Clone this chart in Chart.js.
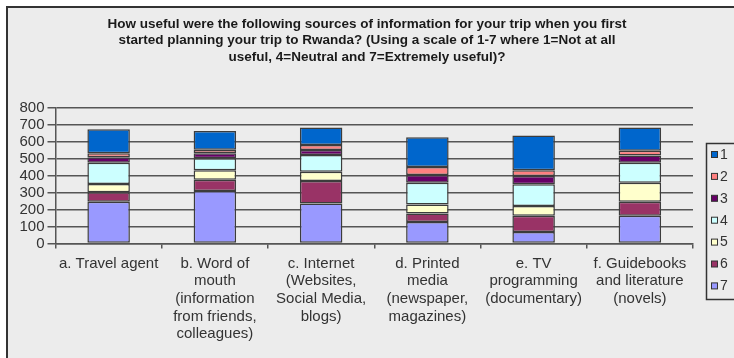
<!DOCTYPE html>
<html>
<head>
<meta charset="utf-8">
<script src="https://cdn.jsdelivr.net/npm/chart.js@4/dist/chart.umd.min.js"></script>
<style>
  html, body { margin: 0; padding: 0; background: #fff; }
  canvas { display: block; }
</style>
</head>
<body>
<canvas id="plot" width="734" height="358"></canvas>
<script>
// sources of information, one label line per array entry
const sources = [
  ["a. Travel agent"],
  ["b. Word of", "mouth", "(information", "from friends,", "colleagues)"],
  ["c. Internet", "(Websites,", "Social Media,", "blogs)"],
  ["d. Printed", "media", "(newspaper,", "magazines)"],
  ["e. TV", "programming", "(documentary)"],
  ["f. Guidebooks", "and literature", "(novels)"]
];

// number of answers per rating (1 = not at all useful ... 7 = extremely useful)
const rating1 = [141, 110, 102, 175, 204, 137];
const rating2 = [24, 21, 30, 47, 34, 28];
const rating3 = [32, 30, 29, 45, 49, 42];
const rating4 = [125, 70, 99, 128, 128, 117];
const rating5 = [49, 56, 54, 53, 57, 113];
const rating6 = [56, 66, 132, 50, 95, 82];
const rating7 = [245, 309, 236, 127, 68, 163];

const yTicks = [0, 100, 200, 300, 400, 500, 600, 700, 800];

const titleLines = [
  "How useful were the following sources of information for your trip when you first",
  "started planning your trip to Rwanda? (Using a scale of 1-7 where 1=Not at all",
  "useful, 4=Neutral and 7=Extremely useful)?"
];

// stacked bottom-up: 7 first, 1 on top
const series = [
  { label: "7", data: rating7, color: "#9999ff" },
  { label: "6", data: rating6, color: "#993366" },
  { label: "5", data: rating5, color: "#ffffcc" },
  { label: "4", data: rating4, color: "#ccffff" },
  { label: "3", data: rating3, color: "#660066" },
  { label: "2", data: rating2, color: "#ff8080" },
  { label: "1", data: rating1, color: "#0066cc" }
];

const FONT = "'Liberation Sans', Arial, sans-serif";
const GRID = "#555555";
const TEXT = "#333333";

// grey panel with a dark frame behind everything
const frame = {
  id: "frame",
  beforeDraw(chart) {
    const ctx = chart.ctx;
    ctx.save();
    ctx.fillStyle = "#ffffff";
    ctx.fillRect(0, 0, chart.width, chart.height);
    ctx.fillStyle = "#ececec";
    ctx.fillRect(7, 7, chart.width, chart.height);
    ctx.strokeStyle = "#333333";
    ctx.lineWidth = 2;
    ctx.strokeRect(7, 7, chart.width + 10, chart.height + 10);
    ctx.restore();
  }
};

// title centred on the whole panel, not only on the plot
const panelTitle = {
  id: "panelTitle",
  afterDraw(chart) {
    const ctx = chart.ctx;
    ctx.save();
    ctx.font = "bold 13.5px " + FONT;
    ctx.fillStyle = "#1a1a1a";
    ctx.textAlign = "center";
    ctx.textBaseline = "middle";
    titleLines.forEach((line, i) => ctx.fillText(line, 367, 24 + i * 16.5));
    ctx.restore();
  }
};

// boxed legend on the right, rating 1 on top
const boxLegend = {
  id: "boxLegend",
  afterDraw(chart) {
    const ctx = chart.ctx;
    const sets = chart.data.datasets.slice().reverse();
    ctx.save();
    ctx.strokeStyle = "#333333";
    ctx.lineWidth = 1.5;
    ctx.strokeRect(706.5, 143.5, 60, 156);
    ctx.font = "14px " + FONT;
    ctx.textBaseline = "middle";
    ctx.textAlign = "left";
    sets.forEach((ds, i) => {
      const y = 155 + i * 21.9;
      ctx.fillStyle = ds.backgroundColor;
      ctx.fillRect(711.5, y - 3.5, 6, 6);
      ctx.strokeStyle = "#333333";
      ctx.lineWidth = 1;
      ctx.strokeRect(711.5, y - 3.5, 6, 6);
      ctx.fillStyle = TEXT;
      ctx.fillText(ds.label, 720, y);
    });
    ctx.restore();
  }
};

const datasets = series.map(s => ({
  label: s.label,
  data: s.data,
  backgroundColor: s.color,
  borderColor: "#3c3c3c",
  borderWidth: 1.5,
  borderSkipped: false,
  categoryPercentage: 1.0,
  barPercentage: 0.4
}));

new Chart(document.getElementById("plot").getContext("2d"), {
  type: "bar",
  data: { labels: sources, datasets: datasets },
  options: {
    responsive: false,
    devicePixelRatio: 1,
    animation: false,
    layout: { padding: { left: 0, right: 41, top: 107.5, bottom: 0 } },
    plugins: {
      legend: { display: false },
      tooltip: { enabled: false },
      title: { display: false }
    },
    scales: {
      x: {
        stacked: true,
        afterFit(scale) { scale.height = 114.5; },
        border: { display: true, color: GRID, width: 1.5 },
        grid: {
          display: true,
          drawOnChartArea: false,
          drawTicks: true,
          tickLength: 5,
          color: GRID,
          lineWidth: 1.5,
          offset: true
        },
        ticks: {
          autoSkip: false,
          maxRotation: 0,
          minRotation: 0,
          color: TEXT,
          padding: 6,
          font: { family: FONT, size: 15, lineHeight: 1.183 }
        }
      },
      y: {
        stacked: true,
        min: 0,
        max: 800,
        afterFit(scale) { scale.width = 55.5; },
        afterBuildTicks(scale) { scale.ticks = yTicks.map(v => ({ value: v })); },
        border: { display: true, color: GRID, width: 1.5 },
        grid: {
          color: GRID,
          lineWidth: 1.5,
          drawTicks: true,
          tickLength: 8
        },
        ticks: {
          autoSkip: false,
          color: TEXT,
          padding: 3,
          font: { family: FONT, size: 15 }
        }
      }
    }
  },
  plugins: [frame, panelTitle, boxLegend]
});
</script>
</body>
</html>
